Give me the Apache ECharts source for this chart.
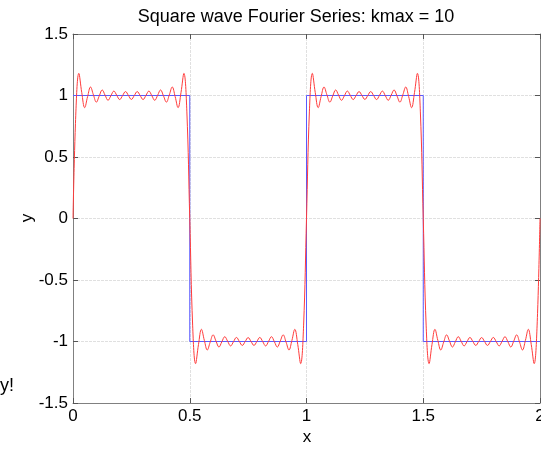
<!DOCTYPE html>
<html>
<head>
<meta charset="utf-8">
<title>Square wave Fourier Series</title>
<script src="https://cdn.jsdelivr.net/npm/echarts@6/dist/echarts.min.js"></script>
<style>
  html, body { margin: 0; padding: 0; background: #fff; }
  #chart { width: 541px; height: 453px; }
</style>
</head>
<body>
<div id="chart"></div>
<script>
// square wave (blue)
var squareX = [0, 0.5, 0.5, 1, 1, 1.5, 1.5, 2];
var squareY = [1, 1, -1, -1, 1, 1, -1, -1];

// fourier partial sum (red), one value every fourierStep along x, from x = 0
var fourierStep = 0.0125;
var fourierY = [
  0, 0.873, 1.180, 1.024, 0.901, 0.991, 1.069, 1.005, 0.946, 0.997, 1.045, 1.002, 0.961, 0.999, 1.036, 1.001, 0.967, 1.000, 1.032, 1.000,
  0.968, 1.000, 1.032, 1.000, 0.967, 1.001, 1.036, 0.999, 0.961, 1.002, 1.045, 0.997, 0.946, 1.005, 1.069, 0.991, 0.901, 1.024, 1.180, 0.873, 0,
  -0.873, -1.180, -1.024, -0.901, -0.991, -1.069, -1.005, -0.946, -0.997, -1.045, -1.002, -0.961, -0.999, -1.036, -1.001, -0.967, -1.000, -1.032, -1.000,
  -0.968, -1.000, -1.032, -1.000, -0.967, -1.001, -1.036, -0.999, -0.961, -1.002, -1.045, -0.997, -0.946, -1.005, -1.069, -0.991, -0.901, -1.024, -1.180, -0.873, 0,
  0.873, 1.180, 1.024, 0.901, 0.991, 1.069, 1.005, 0.946, 0.997, 1.045, 1.002, 0.961, 0.999, 1.036, 1.001, 0.967, 1.000, 1.032, 1.000,
  0.968, 1.000, 1.032, 1.000, 0.967, 1.001, 1.036, 0.999, 0.961, 1.002, 1.045, 0.997, 0.946, 1.005, 1.069, 0.991, 0.901, 1.024, 1.180, 0.873, 0,
  -0.873, -1.180, -1.024, -0.901, -0.991, -1.069, -1.005, -0.946, -0.997, -1.045, -1.002, -0.961, -0.999, -1.036, -1.001, -0.967, -1.000, -1.032, -1.000,
  -0.968, -1.000, -1.032, -1.000, -0.967, -1.001, -1.036, -0.999, -0.961, -1.002, -1.045, -0.997, -0.946, -1.005, -1.069, -0.991, -0.901, -1.024, -1.180, -0.873, 0
];

var titleText = 'Square wave Fourier Series: kmax = 10';
var xName = 'x';
var yName = 'y';
var sideNote = 'y!';

var font = 'Liberation Sans, Arial, Helvetica, sans-serif';
var frameColor = '#808080';
var tickColor = '#555555';

var squareData = squareX.map(function (x, i) { return [x, squareY[i]]; });
var fourierData = fourierY.map(function (y, i) { return [i * fourierStep, y]; });

function axisBase(pos, showLabel, showSplit) {
  return {
    type: 'value',
    position: pos,
    axisLine: { show: true, onZero: false, lineStyle: { color: frameColor, width: 1 } },
    axisTick: { show: true, inside: true, length: 5, lineStyle: { color: tickColor } },
    axisLabel: { show: showLabel, color: '#000', fontSize: 17, fontFamily: font, margin: 5 },
    splitLine: { show: showSplit, lineStyle: { color: '#e0e0e0', type: [3, 1], width: 1 } }
  };
}

var chart = echarts.init(document.getElementById('chart'), null, { renderer: 'canvas' });

var xBottom = axisBase('bottom', true, true);
xBottom.min = 0; xBottom.max = 2; xBottom.interval = 0.5;
var xTop = axisBase('top', false, false);
xTop.min = 0; xTop.max = 2; xTop.interval = 0.5;
var yLeft = axisBase('left', true, true);
yLeft.min = -1.5; yLeft.max = 1.5; yLeft.interval = 0.5;
var yRight = axisBase('right', false, false);
yRight.min = -1.5; yRight.max = 1.5; yRight.interval = 0.5;

chart.setOption({
  animation: false,
  backgroundColor: '#fff',
  grid: { left: 73, right: 1, top: 34, bottom: 50, containLabel: false, outerBoundsMode: 'none' },
  xAxis: [xBottom, xTop],
  yAxis: [yLeft, yRight],
  graphic: [
    { type: 'text', x: 296, y: 17, style: { text: titleText, font: '18px ' + font, fill: '#000', textAlign: 'center', textVerticalAlign: 'middle' } },
    { type: 'text', x: 307, y: 437, style: { text: xName, font: '17px ' + font, fill: '#000', textAlign: 'center', textVerticalAlign: 'middle' } },
    { type: 'text', x: 27, y: 218, rotation: Math.PI / 2, style: { text: yName, font: '17px ' + font, fill: '#000', textAlign: 'center', textVerticalAlign: 'middle' } },
    { type: 'text', x: 14, y: 386, style: { text: sideNote, font: '18px ' + font, fill: '#000', textAlign: 'right', textVerticalAlign: 'middle' } }
  ],
  series: [
    {
      name: 'square',
      type: 'line',
      data: squareData,
      showSymbol: false,
      lineStyle: { color: '#5a5aff', width: 1 },
      z: 2
    },
    {
      name: 'fourier',
      type: 'line',
      data: fourierData,
      smooth: 0.4,
      showSymbol: false,
      lineStyle: { color: '#ff3b3b', width: 1 },
      z: 3
    }
  ]
});
</script>
</body>
</html>
